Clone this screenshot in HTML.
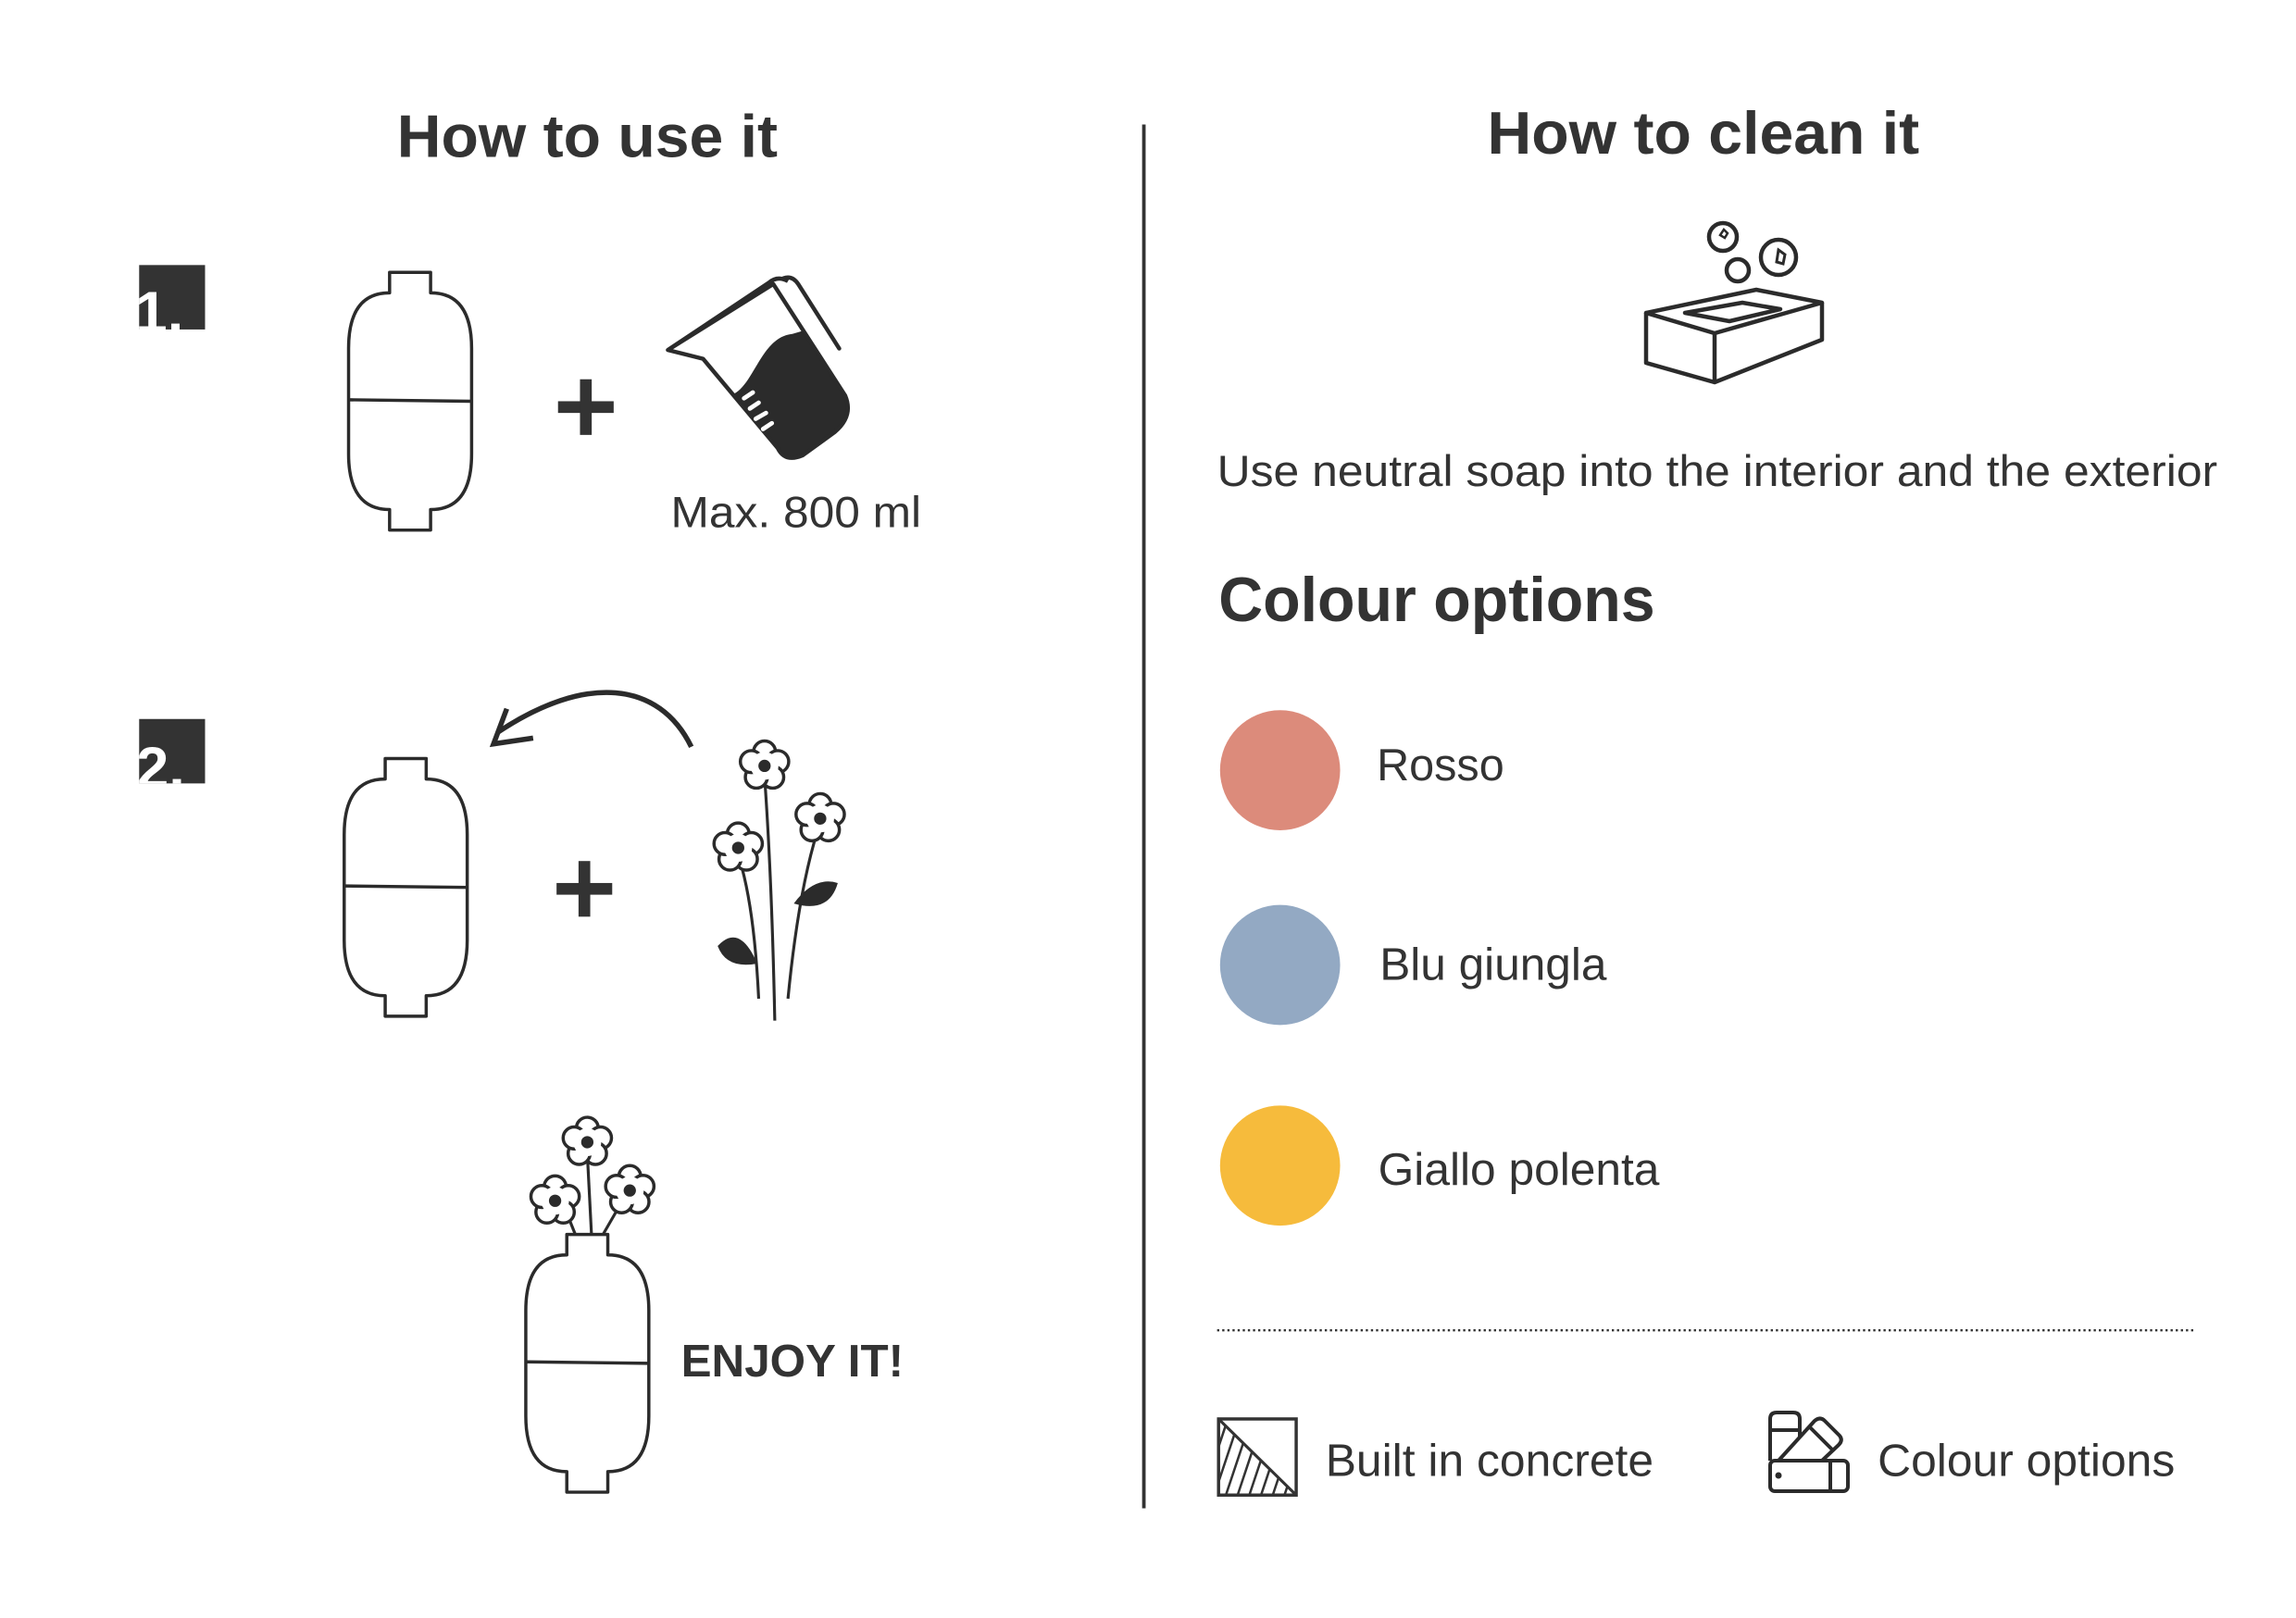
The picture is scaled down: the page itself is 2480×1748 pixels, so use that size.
<!DOCTYPE html>
<html><head><meta charset="utf-8"><style>
html,body{margin:0;padding:0;background:#fff;}
svg{display:block;}
text{font-family:"Liberation Sans",Arial,sans-serif;fill:#333;}
</style></head><body>
<svg width="2480" height="1748" viewBox="0 0 2480 1748" xmlns="http://www.w3.org/2000/svg">
<defs>
<g id="bottle" fill="#fff" stroke="#2b2b2b" stroke-width="2.2" stroke-linejoin="round">
<path d="M56,14 Q84,14 84,52 V124 Q84,162 56,162 V176 H28 V162 Q0,162 0,124 V52 Q0,14 28,14 V0 H56 Z"/>
<line x1="0" y1="87" x2="84" y2="88"/>
</g>
<g id="flower">
<g fill="#fff" stroke="#2b2b2b" stroke-width="2.2">
<circle cx="0" cy="-9.5" r="7.5"/><circle cx="9" cy="-2.9" r="7.5"/><circle cx="5.6" cy="7.7" r="7.5"/><circle cx="-5.6" cy="7.7" r="7.5"/><circle cx="-9" cy="-2.9" r="7.5"/>
</g>
<circle cx="0" cy="0" r="9.5" fill="#fff"/>
<circle cx="0" cy="0" r="4.2" fill="#2b2b2b"/>
</g>
</defs>
<g transform="scale(1.582)">
<text x="401" y="107" font-size="41" font-weight="bold" text-anchor="middle" textLength="260" lengthAdjust="spacingAndGlyphs">How to use it</text>
<text x="1163" y="105" font-size="41" font-weight="bold" text-anchor="middle" textLength="295" lengthAdjust="spacingAndGlyphs">How to clean it</text>
<line x1="781" y1="85" x2="781" y2="1030" stroke="#333" stroke-width="2.4"/>

<clipPath id="n1"><rect x="95" y="181" width="45" height="44"/></clipPath>
<rect x="95" y="181" width="45" height="44" fill="#333"/>
<text x="92" y="227" font-size="40" font-weight="bold" style="fill:#fff" clip-path="url(#n1)">1.</text>
<clipPath id="n2"><rect x="95" y="491" width="45" height="44"/></clipPath>
<rect x="95" y="491" width="45" height="44" fill="#333"/>
<text x="93" y="538" font-size="40" font-weight="bold" style="fill:#fff" clip-path="url(#n2)">2.</text>

<use href="#bottle" x="238" y="186"/>
<rect x="381" y="274" width="38" height="8" fill="#333"/>
<rect x="396" y="259" width="8" height="38" fill="#333"/>
<path d="M501,269 C515,262 520,230 541,228 L548,226 L577,270 Q583,284 570,295 L548,311 Q536,316 531,306 L501,269 Z" fill="#2b2b2b"/>
<path d="M456,239 L525,193 Q531,188 538,192 M528,194 L577,270 Q583,284 570,295 L548,311 Q536,316 531,306 L480,245 L456,239 Z" fill="none" stroke="#2b2b2b" stroke-width="2.8" stroke-linejoin="round"/>
<path d="M535,190 Q541,188 545,194 L573,238" fill="none" stroke="#2b2b2b" stroke-width="2.8" stroke-linecap="round"/>
<g stroke="#fff" stroke-width="3" stroke-linecap="round">
<line x1="508" y1="272" x2="514" y2="268"/><line x1="512" y1="279" x2="518" y2="275"/><line x1="516" y1="286" x2="523" y2="282"/><line x1="521" y1="293" x2="527" y2="289"/>
</g>
<text x="458" y="360" font-size="30" textLength="171" lengthAdjust="spacingAndGlyphs">Max. 800 ml</text>

<path d="M472,510 C450,465 400,460 340,500" fill="none" stroke="#2b2b2b" stroke-width="3.5"/>
<path d="M346,484 L337,508 L364,504" fill="none" stroke="#2b2b2b" stroke-width="3.5"/>
<use href="#bottle" x="235" y="518"/>
<rect x="380" y="603" width="38" height="8" fill="#333"/>
<rect x="395" y="588" width="8" height="38" fill="#333"/>
<g fill="none" stroke="#2b2b2b" stroke-width="2">
<path d="M522,530 Q527,600 529,697"/>
<path d="M505,587 Q515,620 518,682"/>
<path d="M558,568 Q545,610 538,682"/>
</g>
<path d="M517,658 Q505,630 490,646 Q496,662 517,658 Z" fill="#2b2b2b"/>
<path d="M542,617 Q556,598 572,603 Q566,624 542,617 Z" fill="#2b2b2b"/>
<use href="#flower" x="522" y="523"/>
<use href="#flower" x="560" y="559"/>
<use href="#flower" x="504" y="579"/>

<g fill="none" stroke="#2b2b2b" stroke-width="2">
<path d="M401,788 L404,846"/><path d="M386,826 L394,846"/><path d="M425,820 L410,846"/>
</g>
<use href="#bottle" x="359" y="843"/>
<use href="#flower" x="401" y="780"/>
<use href="#flower" x="379" y="820"/>
<use href="#flower" x="430" y="813"/>
<text x="465" y="940" font-size="31" font-weight="bold" textLength="152" lengthAdjust="spacingAndGlyphs">ENJOY IT!</text>

<text x="831" y="332" font-size="30" textLength="683" lengthAdjust="spacingAndGlyphs">Use neutral soap into the interior and the exterior</text>
<text x="832" y="424" font-size="43" font-weight="bold" textLength="298" lengthAdjust="spacingAndGlyphs">Colour options</text>
<circle cx="874" cy="526" r="41" fill="#dc8b7b"/>
<circle cx="874" cy="659" r="41" fill="#93a9c3"/>
<circle cx="874" cy="796" r="41" fill="#f6bb3c"/>
<text x="940" y="533" font-size="31" textLength="87" lengthAdjust="spacingAndGlyphs">Rosso</text>
<text x="942" y="669" font-size="31" textLength="155" lengthAdjust="spacingAndGlyphs">Blu giungla</text>
<text x="941" y="809" font-size="31" textLength="192" lengthAdjust="spacingAndGlyphs">Giallo polenta</text>
<line x1="831" y1="908.5" x2="1499" y2="908.5" stroke="#333" stroke-width="1.5" stroke-dasharray="1.5 2"/>

<rect x="832" y="969" width="53" height="52" fill="none" stroke="#333" stroke-width="2.2"/>
<clipPath id="tri"><path d="M832,969 L885,1021 L832,1021 Z"/></clipPath>
<path d="M832,969 L885,1021" stroke="#333" stroke-width="2"/>
<g clip-path="url(#tri)" stroke="#333" stroke-width="1.6">
<line x1="826" y1="1030" x2="846" y2="970"/><line x1="834" y1="1030" x2="854" y2="970"/><line x1="842" y1="1030" x2="862" y2="970"/><line x1="850" y1="1030" x2="870" y2="970"/><line x1="858" y1="1030" x2="878" y2="970"/><line x1="866" y1="1030" x2="886" y2="970"/><line x1="874" y1="1030" x2="894" y2="970"/><line x1="882" y1="1030" x2="902" y2="970"/><line x1="818" y1="1030" x2="838" y2="970"/>
</g>
<text x="905" y="1008" font-size="31" textLength="224" lengthAdjust="spacingAndGlyphs">Built in concrete</text>
<text x="1282" y="1008" font-size="31" textLength="203" lengthAdjust="spacingAndGlyphs">Colour options</text>
</g>

<g fill="none" stroke="#2b2b2b" stroke-width="4" stroke-linejoin="round">
<path d="M1912,1578 V1533 Q1912,1526 1919,1526 H1937 Q1944,1526 1944,1533 V1552"/>
<line x1="1912" y1="1545" x2="1944" y2="1545"/>
<path d="M1921,1578 L1960,1535 Q1966,1530 1971,1535 L1987,1551 Q1991,1556 1986,1561 L1968,1578"/>
<line x1="1955" y1="1542" x2="1980" y2="1567"/>
<rect x="1912" y="1578" width="84" height="33" rx="5"/>
<line x1="1977" y1="1578" x2="1977" y2="1611"/>
</g>
<circle cx="1921" cy="1594" r="3.5" fill="#2b2b2b"/>

<g fill="none" stroke="#2b2b2b" stroke-width="4.5" stroke-linejoin="round">
<path d="M1778,338 L1897,313 L1968,327 L1852,360 Z"/>
<path d="M1778,338 V392 L1852,413 L1968,367 V327"/>
<line x1="1852" y1="360" x2="1852" y2="413"/>
<path d="M1820,338 L1882,327 L1923,334 L1868,347 Z"/>
<circle cx="1861" cy="256" r="15"/>
<circle cx="1877" cy="292" r="12"/>
<circle cx="1921" cy="278" r="19"/>
</g>
<path d="M1862,248 L1866,252 L1863,257 L1858,254 Z" fill="none" stroke="#2b2b2b" stroke-width="2.5"/>
<path d="M1921,270 L1928,275 L1926,285 L1919,283 Z" fill="none" stroke="#2b2b2b" stroke-width="3"/>
</svg>
</body></html>
